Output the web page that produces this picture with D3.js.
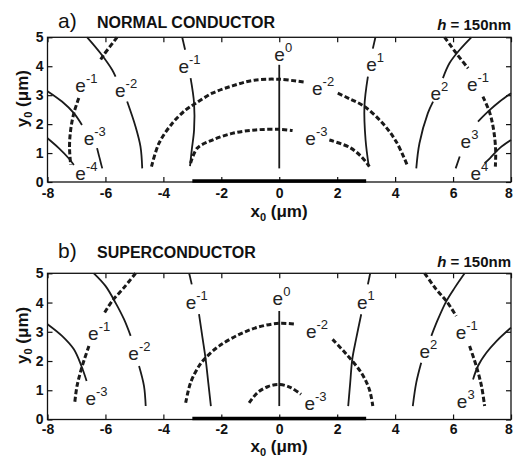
<!DOCTYPE html>
<html>
<head>
<meta charset="utf-8">
<script src="https://cdn.jsdelivr.net/npm/d3@7"></script>
<style>
    html, body { margin: 0; padding: 0; background: #fff; }
    svg { display: block; font-family: "Liberation Sans", Arial, sans-serif; }
</style>
</head>
<body>
<svg id="chart" width="513" height="462"></svg>
<script>
// ===== DATA =====
const xTicks = [-8, -6, -4, -2, 0, 2, 4, 6, 8];
const yTicks = [0, 1, 2, 3, 4, 5];
const stripX = [-3, 3]; // conductor strip on y0 = 0

// a) normal conductor: solid contours (segments split where labels sit)
const normalSolid = [
    [[-6.63, 5.0], [-6.17, 4.45], [-5.77, 3.88], [-5.65, 3.64]],
    [[-5.25, 2.78], [-4.96, 1.91], [-4.79, 1.22], [-4.73, 0.47]],
    [[-8.0, 3.14], [-7.5, 2.78], [-7.09, 2.38], [-6.81, 1.97]],
    [[-6.29, 1.17], [-6.11, 0.47]],
    [[-8.0, 1.51], [-7.61, 1.17], [-7.27, 0.82], [-7.09, 0.59]],
    [[-3.35, 5.0], [-3.25, 4.57]],
    [[-3.06, 3.59], [-2.94, 2.72], [-2.94, 1.8], [-3.02, 1.11], [-3.08, 0.55]],
    [[0, 4.05], [0, 0.47]],
    [[3.32, 5.0], [3.23, 4.61]],
    [[3.06, 3.64], [2.94, 2.61], [2.98, 1.45], [3.09, 0.55]],
    [[4.73, 0.47], [4.84, 1.34], [5.13, 2.38], [5.31, 2.78]],
    [[5.65, 3.59], [5.88, 4.11], [6.23, 4.57], [6.63, 5.0]],
    [[8.0, 3.07], [7.61, 2.78], [7.27, 2.49], [6.86, 2.09]],
    [[6.23, 0.88], [6.09, 0.47]],
    [[8.0, 1.45], [7.61, 1.17], [7.27, 0.82], [7.09, 0.65]]
];

// a) normal conductor: dashed contours
const normalDashed = [
    [[-5.6, 5.0], [-6.06, 4.39], [-6.17, 4.22]],
    [[-6.92, 2.9], [-7.09, 2.38], [-7.2, 1.8], [-7.24, 1.22], [-7.2, 0.59]],
    [[-4.41, 0.53], [-4.15, 1.34], [-3.69, 2.03], [-3.23, 2.49], [-2.88, 2.72], [-2.31, 3.07],
     [-1.62, 3.32], [-0.92, 3.51], [0, 3.55], [0.92, 3.44]],
    [[2.02, 3.07], [2.42, 2.88], [2.94, 2.61], [3.57, 2.03], [4.04, 1.39], [4.44, 0.53]],
    [[-3.06, 0.65], [-2.83, 1.17], [-2.31, 1.45], [-1.62, 1.68], [-0.81, 1.8], [0, 1.82], [0.46, 1.78]],
    [[1.73, 1.45], [2.42, 1.2], [2.83, 0.88], [3.11, 0.53]],
    [[5.71, 5.0], [6.11, 4.45], [6.52, 3.93]],
    [[7.03, 2.95], [7.27, 2.38], [7.4, 1.8], [7.47, 1.11], [7.46, 0.53]]
];

// a) labels: [x, y, exponent]  (x = left of "e", y = baseline)
const normalLabels = [
    [-7.04, 3.11, '-1'], [-5.67, 2.95, '-2'], [-6.75, 1.28, '-3'], [-7.04, 0.07, '-4'],
    [-3.48, 3.78, '-1'], [-0.17, 4.19, '0'], [1.13, 3.01, '-2'], [0.9, 1.28, '-3'],
    [3.0, 3.82, '1'], [5.22, 2.84, '2'], [6.48, 3.15, '-1'], [6.26, 1.19, '3'], [6.6, 0.07, '4']
];

// b) superconductor: solid contours
const superSolid = [
    [[-6.4, 5.0], [-6.0, 4.57], [-5.65, 3.99], [-5.36, 3.43], [-5.13, 2.86]],
    [[-4.84, 1.83], [-4.67, 1.15], [-4.61, 0.46]],
    [[-8.0, 3.26], [-7.5, 2.86], [-7.09, 2.4], [-6.83, 1.83], [-6.65, 1.32]],
    [[-3.11, 5.0], [-3.02, 4.62]],
    [[-2.77, 3.6], [-2.65, 2.8], [-2.54, 2.06], [-2.45, 1.26], [-2.36, 0.46]],
    [[0, 3.71], [0, 0.46]],
    [[3.14, 5.0], [3.06, 4.62]],
    [[2.83, 3.6], [2.65, 2.74], [2.52, 2.06], [2.45, 1.26], [2.38, 0.46]],
    [[4.61, 0.46], [4.73, 1.26], [4.9, 1.94]],
    [[5.25, 2.86], [5.48, 3.43], [5.77, 4.05], [6.06, 4.51], [6.4, 5.0]],
    [[8.0, 3.14], [7.5, 2.68], [7.15, 2.28], [6.86, 1.83], [6.69, 1.37]]
];

// b) superconductor: dashed contours
const superDashed = [
    [[-4.96, 5.0], [-5.36, 4.51], [-5.77, 4.05], [-6.06, 3.6]],
    [[-6.57, 2.51], [-6.8, 1.83], [-6.98, 1.15], [-7.06, 0.57]],
    [[-3.23, 0.57], [-3.06, 1.26], [-2.77, 1.83], [-2.54, 2.11], [-2.08, 2.51], [-1.38, 2.91],
     [-0.69, 3.17], [0, 3.29], [0.58, 3.26]],
    [[1.84, 2.74], [2.31, 2.24], [2.83, 1.6], [3.11, 1.03], [3.23, 0.46]],
    [[-1.04, 0.57], [-0.75, 0.92], [-0.4, 1.12], [0, 1.2], [0.4, 1.09], [0.75, 0.86]],
    [[5.02, 5.0], [5.42, 4.45], [5.77, 4.05], [6.11, 3.54]],
    [[6.57, 2.51], [6.8, 1.83], [6.98, 1.15], [7.09, 0.46]]
];

const superLabels = [
    [-6.6, 2.72, '-1'], [-5.21, 2.02, '-2'], [-6.69, 0.49, '-3'], [-3.23, 3.77, '-1'],
    [-0.23, 3.9, '0'], [0.92, 2.8, '-2'], [0.87, 0.32, '-3'], [2.68, 3.77, '1'],
    [4.84, 2.11, '2'], [6.09, 2.74, '-1'], [6.13, 0.4, '3']
];


// ===== LAYOUT =====
const svg = d3.select('#chart');
const LEFT = 47.5, RIGHT = 511;

const panels = [
    { tag: 'a)', title: 'NORMAL CONDUCTOR', top: 37.3, bottom: 182, titleY: 28, hY: 30, xLabY: 217, tickPad: 6,
      solid: normalSolid, dashed: normalDashed, labels: normalLabels },
    { tag: 'b)', title: 'SUPERCONDUCTOR', top: 273.3, bottom: 419.5, titleY: 258, hY: 267, xLabY: 452, tickPad: 5,
      solid: superSolid, dashed: superDashed, labels: superLabels }
];

panels.forEach(p => {
    const x = d3.scaleLinear().domain([-8, 8]).range([LEFT, RIGHT]);
    const y = d3.scaleLinear().domain([0, 5]).range([p.bottom, p.top]);
    const g = svg.append('g');

    const line = d3.line()
        .x(d => x(d[0]))
        .y(d => y(d[1]))
        .curve(d3.curveCatmullRom.alpha(0.5));

    // Axes: ticks pointing inward on all four sides
    const styleAxis = sel => {
        sel.select('.domain').remove();
        sel.selectAll('.tick line').attr('stroke', '#111').attr('stroke-width', 1.2);
        sel.selectAll('.tick text')
            .attr('fill', '#111')
            .style('font-size', '14px')
            .style('font-weight', 'bold');
    };

    const xAxis = g.append('g')
        .attr('transform', `translate(0,${p.bottom})`)
        .call(d3.axisBottom(x).tickValues(xTicks).tickSizeInner(-5).tickSizeOuter(0)
            .tickPadding(p.tickPad).tickFormat(d => String(d)))
        .call(styleAxis);
    // last label sits on the window edge: nudge it inside
    xAxis.selectAll('.tick text').filter(d => d === 8).attr('dx', -2.5);

    g.append('g')
        .attr('transform', `translate(0,${p.top})`)
        .call(d3.axisTop(x).tickValues(xTicks).tickSizeInner(-5).tickSizeOuter(0).tickFormat(''))
        .call(styleAxis);

    g.append('g')
        .attr('transform', `translate(${LEFT},0)`)
        .call(d3.axisLeft(y).tickValues(yTicks).tickSizeInner(-5).tickSizeOuter(0)
            .tickPadding(4).tickFormat(d => String(d)))
        .call(styleAxis);

    g.append('g')
        .attr('transform', `translate(${RIGHT},0)`)
        .call(d3.axisRight(y).tickValues(yTicks).tickSizeInner(-5).tickSizeOuter(0).tickFormat(''))
        .call(styleAxis);

    // Frame
    g.append('rect')
        .attr('x', LEFT).attr('y', p.top)
        .attr('width', RIGHT - LEFT).attr('height', p.bottom - p.top)
        .attr('fill', 'none')
        .attr('stroke', '#111')
        .attr('stroke-width', 1.3);

    // Conductor strip
    g.append('line')
        .attr('x1', x(stripX[0])).attr('x2', x(stripX[1]))
        .attr('y1', y(0) - 1).attr('y2', y(0) - 1)
        .attr('stroke', '#000')
        .attr('stroke-width', 3.5);

    // Solid contours
    g.selectAll('.solid')
        .data(p.solid)
        .enter().append('path')
        .attr('class', 'solid')
        .attr('d', line)
        .attr('fill', 'none')
        .attr('stroke', '#1a1a1a')
        .attr('stroke-width', 1.8);

    // Dashed contours
    g.selectAll('.dashed')
        .data(p.dashed)
        .enter().append('path')
        .attr('class', 'dashed')
        .attr('d', line)
        .attr('fill', 'none')
        .attr('stroke', '#1a1a1a')
        .attr('stroke-width', 3)
        .attr('stroke-dasharray', '5,2.5');

    // Contour labels e^n
    const lab = g.selectAll('.clabel')
        .data(p.labels)
        .enter().append('text')
        .attr('class', 'clabel')
        .attr('x', d => x(d[0]))
        .attr('y', d => y(d[1]))
        .attr('fill', '#222')
        .style('font-size', '19px');
    lab.append('tspan').text('e');
    lab.append('tspan')
        .attr('dy', -9)
        .style('font-size', '13px')
        .text(d => d[2]);

    // Titles
    g.append('text')
        .attr('x', 58).attr('y', p.titleY)
        .style('font-size', '21px')
        .attr('fill', '#111')
        .text(p.tag);

    g.append('text')
        .attr('x', 97).attr('y', p.titleY)
        .style('font-size', '16px')
        .style('font-weight', 'bold')
        .attr('fill', '#111')
        .text(p.title);

    const h = g.append('text')
        .attr('x', RIGHT).attr('y', p.hY)
        .attr('text-anchor', 'end')
        .style('font-size', '15px')
        .style('font-weight', 'bold')
        .attr('fill', '#111');
    h.append('tspan').style('font-style', 'italic').text('h');
    h.append('tspan').text(' = 150nm');

    // Axis labels
    const xl = g.append('text')
        .attr('x', 279).attr('y', p.xLabY)
        .attr('text-anchor', 'middle')
        .style('font-size', '17px')
        .style('font-weight', 'bold')
        .attr('fill', '#111');
    xl.append('tspan').text('x');
    xl.append('tspan').attr('dy', 4).style('font-size', '11px').text('0');
    xl.append('tspan').attr('dy', -4).text(' (μm)');

    const cy = (p.top + p.bottom) / 2 - 11;
    const yl = g.append('text')
        .attr('transform', `translate(28,${cy}) rotate(-90)`)
        .attr('text-anchor', 'middle')
        .style('font-size', '17px')
        .style('font-weight', 'bold')
        .attr('fill', '#111');
    yl.append('tspan').text('y');
    yl.append('tspan').attr('dy', 4).style('font-size', '11px').text('0');
    yl.append('tspan').attr('dy', -4).text(' (μm)');
});
</script>
</body>
</html>
